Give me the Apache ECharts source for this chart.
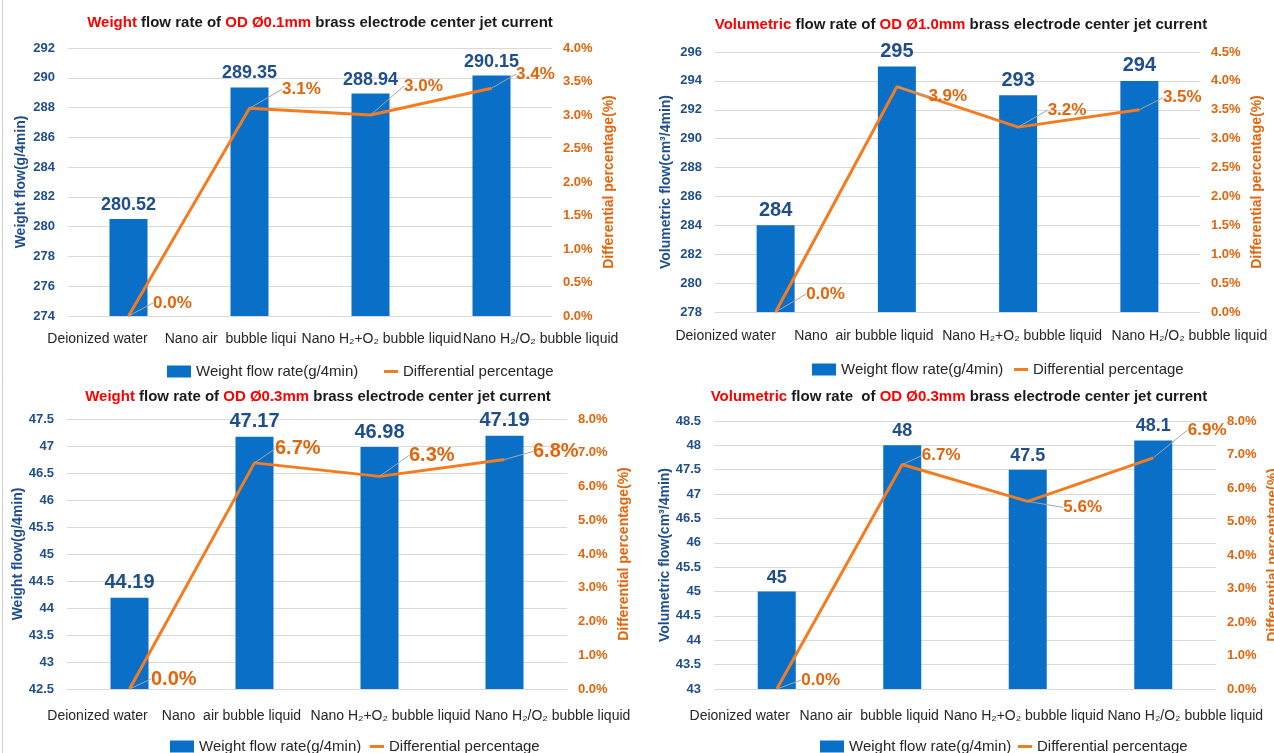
<!DOCTYPE html>
<html>
<head>
<meta charset="utf-8">
<script src="https://cdn.jsdelivr.net/npm/echarts@6/dist/echarts.min.js"></script>
<style>html,body{margin:0;padding:0;background:#fff;}#c{width:1274px;height:753px;}</style>
</head>
<body>
<div id="c"></div>
<script>
// ---------- DATA ----------
const categoriesP1 = ['Deionized water', 'Nano air  bubble liqui', 'Nano H\u2082+O\u2082 bubble liquid', 'Nano H\u2082/O\u2082 bubble liquid'];
const categoriesP2 = ['Deionized water', 'Nano  air bubble liquid', 'Nano H\u2082+O\u2082 bubble liquid', 'Nano H\u2082/O\u2082 bubble liquid'];
const categoriesP3 = ['Deionized water', 'Nano  air bubble liquid', 'Nano H\u2082+O\u2082 bubble liquid', 'Nano H\u2082/O\u2082 bubble liquid'];
const categoriesP4 = ['Deionized water', 'Nano air  bubble liquid', 'Nano H\u2082+O\u2082 bubble liquid', 'Nano H\u2082/O\u2082 bubble liquid'];

const weightFlow01 = [280.52, 289.35, 288.94, 290.15];
const diffPct01 = [0.0, 3.1, 3.0, 3.4];
const volFlow10 = [284, 295, 293, 294];
const diffPct10 = [0.0, 3.9, 3.2, 3.5];
const weightFlow03 = [44.19, 47.17, 46.98, 47.19];
const diffPctW03 = [0.0, 6.7, 6.3, 6.8];
const volFlow03 = [45, 48, 47.5, 48.1];
const diffPctV03 = [0.0, 6.7, 5.6, 6.9];

const titlesP = [
  ['Weight', ' flow rate of ', 'OD \u00D80.1mm', ' brass electrode center jet current'],
  ['Volumetric', ' flow rate of ', 'OD \u00D81.0mm', ' brass electrode center jet current'],
  ['Weight', ' flow rate of ', 'OD \u00D80.3mm', ' brass electrode center jet current'],
  ['Volumetric', ' flow rate  of ', 'OD \u00D80.3mm', ' brass electrode center jet current']
];
const leftAxisNames = ['Weight flow(g/4min)', 'Volumetric flow(cm\u00B3/4min)', 'Weight flow(g/4min)', 'Volumetric flow(cm\u00B3/4min)'];
const rightAxisName = 'Differential percentage(%)';
const barName = 'Weight flow rate(g/4min)';
const lineName = 'Differential percentage';
const leftRanges = [[274, 292, 2], [278, 296, 2], [42.5, 47.5, 0.5], [43, 48.5, 0.5]];
const rightRanges = [[0, 4, 0.5], [0, 4.5, 0.5], [0, 8, 1], [0, 8, 1]];

// ---------- LAYOUT / STYLE ----------
const FONT = '"Liberation Sans", Arial, sans-serif';
const BAR = '#0a6fc6';
const LINE = '#f47c20';
const BLUE_TXT = '#1f4e8c';
const ORANGE_TXT = '#e2650c';

const layout = [
  { grid: [68, 48, 484, 268], title: [320, 24], catMargin: 16, catShift: [-31, -19, 11, 49],
    lName: 40, rName: 50, legend: [167, 384, 372], barFont: 18, lineFont: 17,
    lblOff: [[24, -13], [32, -19], [33, -29], [24, -14]] },
  { grid: [715, 52, 485, 260], title: [961, 26], catMargin: 17, catShift: [-50, -33, 4, 50],
    lName: 42, rName: 50, legend: [812, 1014, 370], barFont: 20, lineFont: 17,
    lblOff: [[30, -18], [31, 10], [29, -17], [23, -12]] },
  { grid: [67, 419, 500, 270], title: [318, 398], catMargin: 20, catShift: [-32, -23, 11, 48],
    lName: 42, rName: 50, legend: [170, 370, 747], barFont: 20, lineFont: 20,
    lblOff: [[21, -10], [20, -14], [29, -21], [28, -8]] },
  { grid: [714, 421, 502, 268], title: [959, 398], catMargin: 20, catShift: [-37, -33, -4, 32],
    lName: 41, rName: 50, legend: [820, 1018, 747], barFont: 18, lineFont: 17,
    lblOff: [[24, -9], [19, -9], [35, 6], [34, -28]] }
];

const allCats = [categoriesP1, categoriesP2, categoriesP3, categoriesP4];
const allBars = [weightFlow01, volFlow10, weightFlow03, volFlow03];
const allLines = [diffPct01, diffPct10, diffPctW03, diffPctV03];

const option = {
  animation: false,
  backgroundColor: '#fff',
  textStyle: { fontFamily: FONT },
  title: [], grid: [], xAxis: [], yAxis: [], series: [], legend: [],
  graphic: [{ type: 'line', shape: { x1: 2.5, y1: 0, x2: 2.5, y2: 753 }, style: { stroke: '#cfcfcf', lineWidth: 1 } }]
};

for (let i = 0; i < 4; i++) {
  const L = layout[i];
  const t = titlesP[i];
  option.title.push({
    text: '{r|' + t[0] + '}' + t[1] + '{r|' + t[2] + '}' + t[3],
    left: L.title[0], top: L.title[1] - 9, textAlign: 'center', padding: 0,
    textStyle: { fontSize: 15, fontWeight: 'bold', color: '#1a1a1a', fontFamily: FONT,
      rich: { r: { fontSize: 15, fontWeight: 'bold', color: '#ff0000', fontFamily: FONT } } }
  });
  option.grid.push({ left: L.grid[0], top: L.grid[1], width: L.grid[2], height: L.grid[3],
    containLabel: false, outerBoundsMode: 'none' });

  const rich = {};
  L.catShift.forEach((s, k) => {
    rich['s' + k] = { fontSize: 14, color: '#262626', fontFamily: FONT,
      padding: s > 0 ? [0, 0, 0, 2 * s] : [0, -2 * s, 0, 0] };
  });
  option.xAxis.push({
    type: 'category', gridIndex: i, data: allCats[i],
    axisTick: { show: false },
    axisLine: { lineStyle: { color: '#d9d9d9', width: 1 } },
    axisLabel: { interval: 0, margin: L.catMargin, formatter: (v, idx) => '{s' + idx + '|' + v + '}', rich: rich }
  });
  const lr = leftRanges[i], rr = rightRanges[i];
  option.yAxis.push({
    type: 'value', gridIndex: i, min: lr[0], max: lr[1], interval: lr[2],
    name: leftAxisNames[i], nameLocation: 'middle', nameGap: L.lName,
    nameTextStyle: { color: BLUE_TXT, fontWeight: 'bold', fontSize: 14, fontFamily: FONT },
    axisLine: { show: false }, axisTick: { show: false },
    axisLabel: { color: BLUE_TXT, fontWeight: 'bold', fontSize: 13, margin: 13, fontFamily: FONT },
    splitLine: { lineStyle: { color: '#d9d9d9', width: 1 } }
  });
  option.yAxis.push({
    type: 'value', gridIndex: i, position: 'right', min: rr[0], max: rr[1], interval: rr[2],
    name: rightAxisName, nameLocation: 'middle', nameGap: L.rName, nameRotate: 90,
    nameTextStyle: { color: ORANGE_TXT, fontWeight: 'bold', fontSize: 14, fontFamily: FONT },
    axisLine: { show: false }, axisTick: { show: false },
    axisLabel: { color: ORANGE_TXT, fontWeight: 'bold', fontSize: 13, margin: 11, fontFamily: FONT,
      formatter: v => v.toFixed(1) + '%' },
    splitLine: { show: false }
  });
  option.series.push({
    type: 'bar', name: barName, xAxisIndex: i, yAxisIndex: 2 * i, data: allBars[i],
    barWidth: 38, itemStyle: { color: BAR },
    label: { show: true, position: 'top', distance: 5, color: BLUE_TXT, fontWeight: 'bold',
      fontSize: L.barFont, fontFamily: FONT }
  });
  const offs = L.lblOff;
  option.series.push({
    type: 'line', name: lineName, xAxisIndex: i, yAxisIndex: 2 * i + 1, data: allLines[i],
    symbol: 'circle', symbolSize: 1, showSymbol: true, z: 5,
    lineStyle: { color: LINE, width: 3 }, itemStyle: { color: LINE },
    label: { show: true, position: 'right', distance: 0, color: ORANGE_TXT, fontWeight: 'bold',
      fontSize: L.lineFont, fontFamily: FONT, formatter: p => p.value.toFixed(1) + '%' },
    labelLine: { show: true, lineStyle: { color: '#a6a6a6', width: 1 } },
    labelLayout: p => ({ dx: offs[p.dataIndex][0], dy: offs[p.dataIndex][1] })
  });
  option.legend.push({
    left: L.legend[0], top: L.legend[2] - 8, padding: 0, selectedMode: false,
    itemWidth: 24, itemHeight: 12,
    data: [{ name: barName, icon: 'rect' }],
    textStyle: { fontSize: 15, color: '#262626', fontFamily: FONT }
  });
  option.legend.push({
    left: L.legend[1], top: L.legend[2] - 8, padding: 0, selectedMode: false,
    itemWidth: 14, itemHeight: 3,
    data: [{ name: lineName, icon: 'rect' }],
    textStyle: { fontSize: 15, color: '#262626', fontFamily: FONT }
  });
}

const chart = echarts.init(document.getElementById('c'), null, { renderer: 'canvas' });
chart.setOption(option);
</script>
</body>
</html>
